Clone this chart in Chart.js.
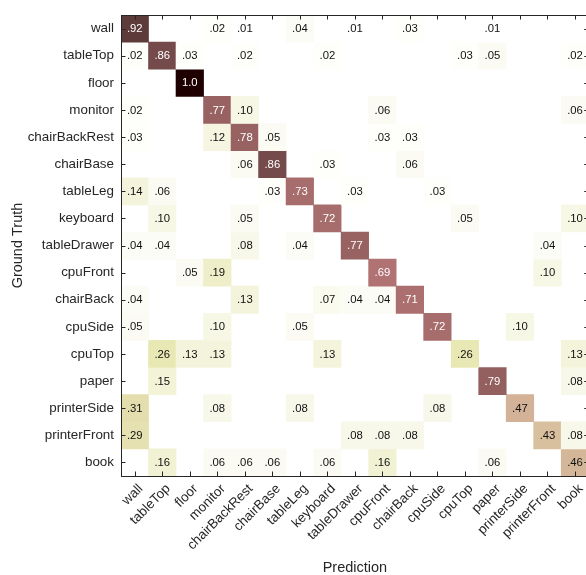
<!DOCTYPE html>
<html>
<head>
<meta charset="utf-8">
<script src="https://cdn.jsdelivr.net/npm/chart.js@4/dist/chart.umd.min.js"></script>
<style>
  html, body { margin: 0; padding: 0; background: #ffffff; overflow: hidden; }
  #wrap { width: 600px; height: 575px; }
</style>
</head>
<body>
<div id="wrap"><canvas id="cm" width="600" height="575"></canvas></div>
<script>
// Class names, used for both predicted (columns) and ground-truth (rows) labels
const classes = ['wall', 'tableTop', 'floor', 'monitor', 'chairBackRest', 'chairBase', 'tableLeg',
  'keyboard', 'tableDrawer', 'cpuFront', 'chairBack', 'cpuSide', 'cpuTop', 'paper',
  'printerSide', 'printerFront', 'book'];

// Row-normalised confusion matrix: one row per ground-truth class, one column per prediction
const rowWall         = [.92, 0, 0, .02, .01, 0, .04, 0, .01, 0, .03, 0, 0, .01, 0, 0, 0];
const rowTableTop     = [.02, .86, .03, 0, .02, 0, 0, .02, 0, 0, 0, 0, .03, .05, 0, 0, .02];
const rowFloor        = [0, 0, 1.0, 0, 0, 0, 0, 0, 0, 0, 0, 0, 0, 0, 0, 0, 0];
const rowMonitor      = [.02, 0, 0, .77, .10, 0, 0, 0, 0, .06, 0, 0, 0, 0, 0, 0, .06];
const rowChairBackRest= [.03, 0, 0, .12, .78, .05, 0, 0, 0, .03, .03, 0, 0, 0, 0, 0, 0];
const rowChairBase    = [0, 0, 0, 0, .06, .86, 0, .03, 0, 0, .06, 0, 0, 0, 0, 0, 0];
const rowTableLeg     = [.14, .06, 0, 0, 0, .03, .73, 0, .03, 0, 0, .03, 0, 0, 0, 0, 0];
const rowKeyboard     = [0, .10, 0, 0, .05, 0, 0, .72, 0, 0, 0, 0, .05, 0, 0, 0, .10];
const rowTableDrawer  = [.04, .04, 0, 0, .08, 0, .04, 0, .77, 0, 0, 0, 0, 0, 0, .04, 0];
const rowCpuFront     = [0, 0, .05, .19, 0, 0, 0, 0, 0, .69, 0, 0, 0, 0, 0, .10, 0];
const rowChairBack    = [.04, 0, 0, 0, .13, 0, 0, .07, .04, .04, .71, 0, 0, 0, 0, 0, 0];
const rowCpuSide      = [.05, 0, 0, .10, 0, 0, .05, 0, 0, 0, 0, .72, 0, 0, .10, 0, 0];
const rowCpuTop       = [0, .26, .13, .13, 0, 0, 0, .13, 0, 0, 0, 0, .26, 0, 0, 0, .13];
const rowPaper        = [0, .15, 0, 0, 0, 0, 0, 0, 0, 0, 0, 0, 0, .79, 0, 0, .08];
const rowPrinterSide  = [.31, 0, 0, .08, 0, 0, .08, 0, 0, 0, 0, .08, 0, 0, .47, 0, 0];
const rowPrinterFront = [.29, 0, 0, 0, 0, 0, 0, 0, .08, .08, .08, 0, 0, 0, 0, .43, .08];
const rowBook         = [0, .16, 0, .06, .06, .06, 0, .06, 0, .16, 0, 0, 0, .06, 0, 0, .46];

const matrix = [rowWall, rowTableTop, rowFloor, rowMonitor, rowChairBackRest, rowChairBase,
  rowTableLeg, rowKeyboard, rowTableDrawer, rowCpuFront, rowChairBack, rowCpuSide, rowCpuTop,
  rowPaper, rowPrinterSide, rowPrinterFront, rowBook];

// 64-step "pink" colormap, flipped so that 0 is white and 1 is near-black
const PINK = (() => {
  const m = 64, n = Math.floor(3 / 8 * m), out = [];
  for (let i = 0; i < m; i++) {
    const gray = i / (m - 1);
    const r = i < n ? (i + 1) / n : 1;
    const g = i < n ? 0 : (i < 2 * n ? (i - n + 1) / n : 1);
    const b = i < 2 * n ? 0 : (i - 2 * n + 1) / (m - 2 * n);
    out.push([r, g, b].map(h => Math.round(255 * Math.sqrt((2 * gray + h) / 3))));
  }
  return out;
})();
function cellColor(v) {
  const k = Math.min(63, Math.floor(v * 64));
  const c = PINK[63 - k];
  return `rgb(${c[0]},${c[1]},${c[2]})`;
}
function fmt(v) {
  if (v >= 1) return '1.0';
  return '.' + String(Math.round(v * 100)).padStart(2, '0');
}

const FONT = "'Liberation Sans', Arial, Helvetica, sans-serif";
const AXIS = '#262626';

// Each ground-truth row is a dataset of floating bars spanning [row-0.5, row+0.5]
const datasets = matrix.map((row, r) => ({
  label: classes[r],
  data: row.map(v => (v > 0 ? [r - 0.5, r + 0.5] : null)),
  backgroundColor: row.map(v => cellColor(v)),
  borderWidth: 0,
  barPercentage: 1,
  categoryPercentage: 1,
  grouped: false
}));

// Frame and inward-pointing tick marks on all four sides
const frameTicks = {
  id: 'frameTicks',
  afterDraw(chart) {
    const { ctx, chartArea: a, scales: { x, y } } = chart;
    const L = 4.5;
    ctx.save();
    ctx.strokeStyle = AXIS;
    ctx.lineWidth = 1;
    ctx.beginPath();
    x.ticks.forEach((_, i) => {
      const px = Math.round(x.getPixelForTick(i)) + 0.5;
      ctx.moveTo(px, a.bottom); ctx.lineTo(px, a.bottom - L);
      ctx.moveTo(px, a.top); ctx.lineTo(px, a.top + L);
    });
    y.ticks.forEach((_, i) => {
      const py = Math.round(y.getPixelForTick(i)) + 0.5;
      ctx.moveTo(a.left, py); ctx.lineTo(a.left + L, py);
      ctx.moveTo(a.right, py); ctx.lineTo(a.right - L, py);
    });
    ctx.stroke();
    ctx.strokeRect(Math.round(a.left) + 0.5, Math.round(a.top) + 0.5,
      Math.round(a.right - a.left), Math.round(a.bottom - a.top));
    ctx.restore();
  }
};

// Value text in the centre of every non-empty cell
const cellValues = {
  id: 'cellValues',
  afterDatasetsDraw(chart) {
    const { ctx, scales: { x, y } } = chart;
    ctx.save();
    ctx.font = `11.3px ${FONT}`;
    ctx.textAlign = 'center';
    ctx.textBaseline = 'middle';
    matrix.forEach((row, r) => {
      row.forEach((v, c) => {
        if (v <= 0) return;
        ctx.fillStyle = v >= 0.5 ? '#ffffff' : '#111111';
        ctx.fillText(fmt(v), x.getPixelForValue(c), y.getPixelForValue(r) + 0.5);
      });
    });
    ctx.restore();
  }
};

new Chart(document.getElementById('cm'), {
  type: 'bar',
  data: { labels: classes, datasets },
  options: {
    responsive: false,
    animation: false,
    events: [],
    layout: { padding: { top: 8, right: 11.25, bottom: 0, left: 0 } },
    plugins: { legend: { display: false }, tooltip: { enabled: false } },
    scales: {
      x: {
        type: 'category',
        offset: true,
        grid: { display: false, drawTicks: false },
        border: { display: false },
        ticks: {
          autoSkip: false,
          minRotation: 45,
          maxRotation: 45,
          padding: 5,
          labelOffset: 6,
          color: AXIS,
          font: { family: FONT, size: 13.4 }
        },
        title: {
          display: true,
          text: 'Prediction',
          color: AXIS,
          font: { family: FONT, size: 14.5 },
          padding: { top: 0, bottom: -1.5 }
        },
        afterFit(scale) { scale.height = 99; }
      },
      y: {
        type: 'linear',
        reverse: true,
        min: -0.5,
        max: 16.5,
        grid: { display: false, drawTicks: false },
        border: { display: false },
        afterBuildTicks(scale) { scale.ticks = classes.map((_, i) => ({ value: i })); },
        ticks: {
          autoSkip: false,
          padding: 7,
          color: AXIS,
          font: { family: FONT, size: 13.4 },
          callback: v => classes[v]
        },
        title: {
          display: true,
          text: 'Ground Truth',
          color: AXIS,
          font: { family: FONT, size: 14.5 },
          padding: { top: 9, bottom: 0 }
        },
        afterFit(scale) { scale.width = 121; }
      }
    }
  },
  plugins: [cellValues, frameTicks]
});
</script>
</body>
</html>
